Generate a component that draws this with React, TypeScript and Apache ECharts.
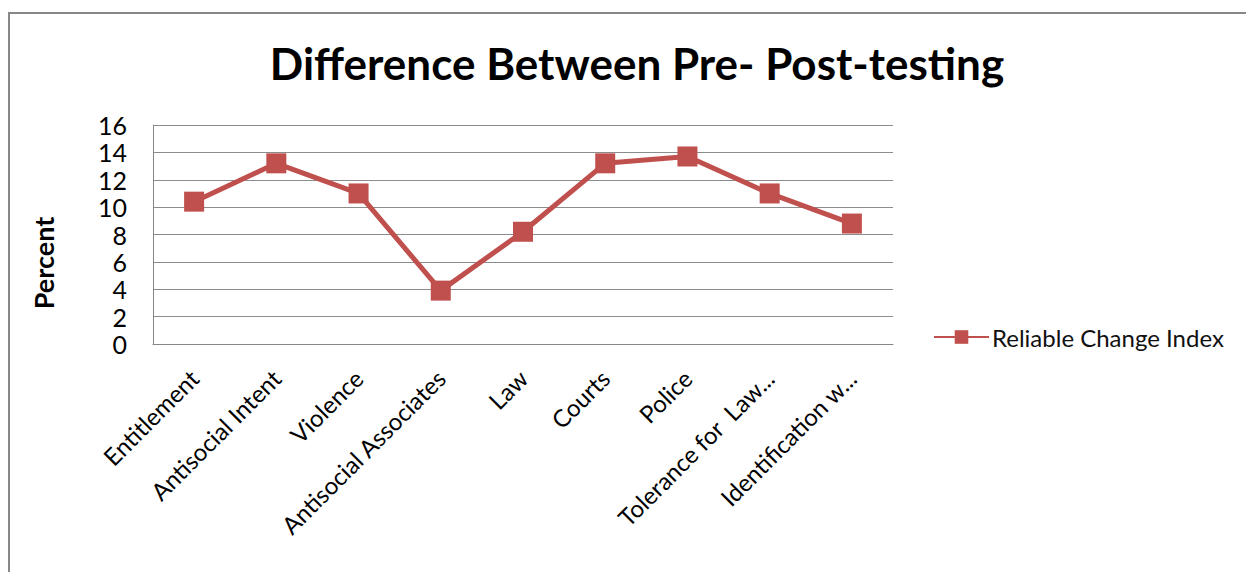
import { useEffect, useRef } from "react";
import * as echarts from "echarts";

// Scale names shown along the category axis
const categories = [
  "Entitlement",
  "Antisocial Intent",
  "Violence",
  "Antisocial Associates",
  "Law",
  "Courts",
  "Police",
  "Tolerance for  Law...",
  "Identification w...",
];

// Reliable Change Index, in percent
const reliableChangeIndex = [10.4, 13.2, 11.0, 3.9, 8.2, 13.2, 13.7, 11.0, 8.8];

const seriesName = "Reliable Change Index";
const yMin = 0;
const yMax = 16;
const yStep = 2;

const FONT = "Lato, 'Noto Sans', sans-serif";
const RED = "#C0504D";

export default function App() {
  const ref = useRef<HTMLDivElement>(null);

  useEffect(() => {
    if (!ref.current) return;
    const chart = echarts.init(ref.current, null, { renderer: "svg" });
    chart.setOption({
      animation: false,
      backgroundColor: "#ffffff",
      title: {
        text: "Difference Between Pre- Post-testing",
        left: 632,
        top: 36,
        textAlign: "center",
        textStyle: {
          fontFamily: FONT,
          fontWeight: "bold",
          fontSize: 44,
          color: "#000",
        },
      },
      legend: {
        left: 933,
        top: 325,
        padding: 0,
        itemWidth: 55,
        itemHeight: 17,
        itemGap: 4,
        data: [seriesName],
        textStyle: { fontFamily: FONT, fontSize: 24, color: "#111", padding: [0, 0, 0, -2] },
      },
      grid: { left: 153, top: 125, width: 740, height: 219, containLabel: false },
      xAxis: {
        type: "category",
        data: categories,
        boundaryGap: true,
        axisLine: { show: true, lineStyle: { color: "#868686", width: 1 } },
        axisTick: { show: false },
        axisLabel: {
          rotate: 45,
          margin: 30,
          interval: 0,
          fontFamily: FONT,
          fontSize: 24,
          color: "#000",
        },
      },
      yAxis: {
        type: "value",
        min: yMin,
        max: yMax,
        interval: yStep,
        axisLine: { show: true, lineStyle: { color: "#868686", width: 1 } },
        axisTick: { show: false },
        splitLine: { lineStyle: { color: "#8c8c8c", width: 1 } },
        axisLabel: {
          margin: 26,
          fontFamily: FONT,
          fontSize: 25,
          color: "#000",
        },
      },
      series: [
        {
          name: seriesName,
          type: "line",
          data: reliableChangeIndex,
          symbol: "rect",
          symbolSize: 20,
          itemStyle: { color: RED },
          lineStyle: { color: RED, width: 5 },
        },
      ],
      graphic: [
        {
          type: "rect",
          shape: { x: 9, y: 13, width: 1400, height: 800 },
          style: { fill: "none", stroke: "#878787", lineWidth: 2 },
          silent: true,
        },
        {
          type: "text",
          x: 43,
          y: 263,
          rotation: Math.PI / 2,
          style: {
            text: "Percent",
            fontFamily: FONT,
            fontWeight: "bold",
            fontSize: 27,
            fill: "#000",
            align: "center",
            verticalAlign: "middle",
          },
        },
      ],
    });
    return () => chart.dispose();
  }, []);

  return (
    <div
      ref={ref}
      style={{ position: "fixed", left: 0, top: 0, width: 1246, height: 572 }}
    />
  );
}
